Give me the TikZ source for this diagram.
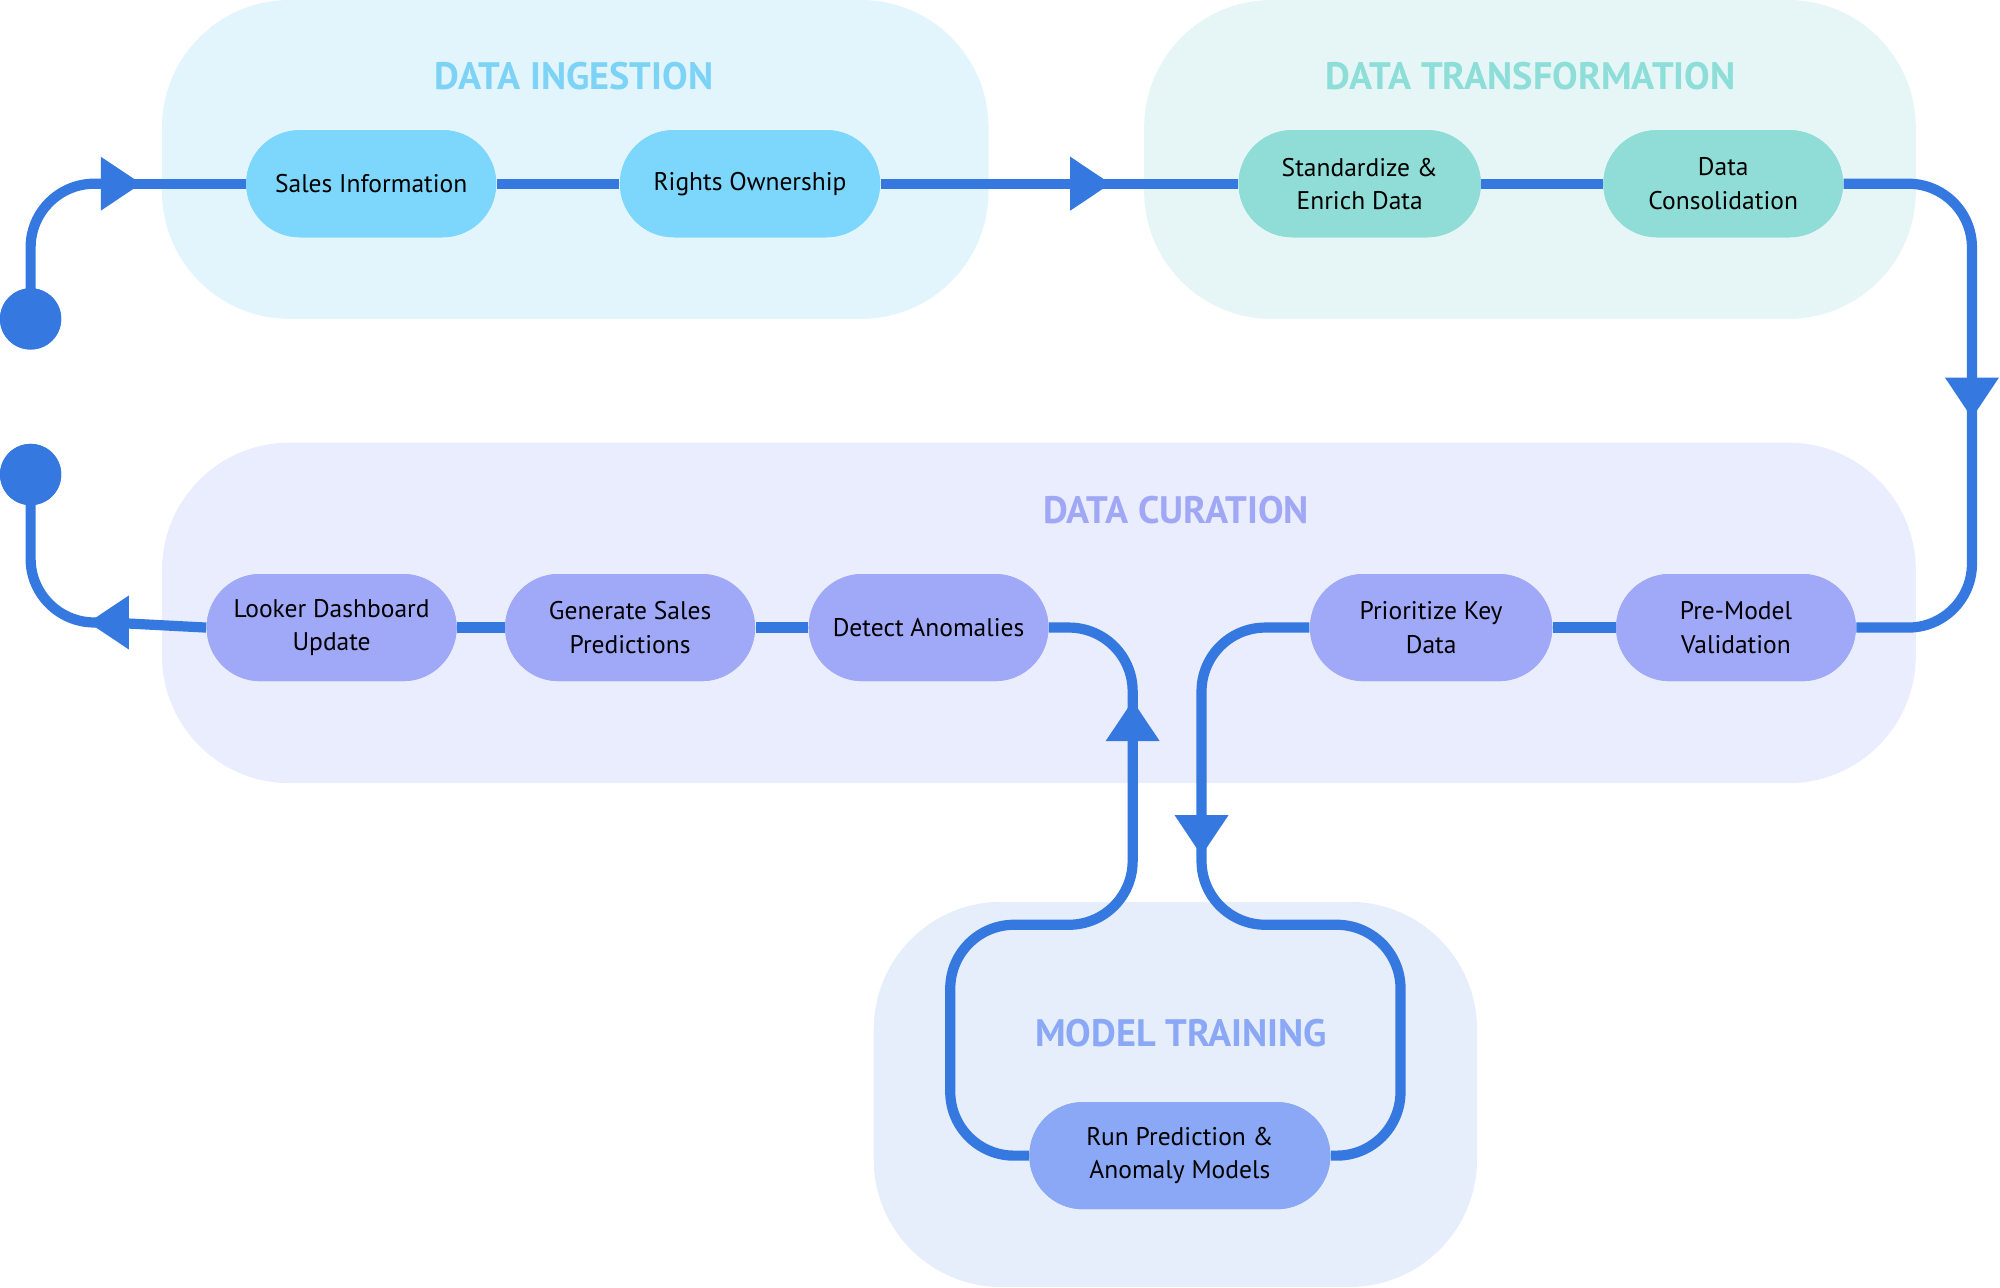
\documentclass[tikz,border=0pt]{standalone}
\usepackage{fontspec}
\setmainfont{PT Sans}
\usetikzlibrary{arrows.meta}
\definecolor{ln}{HTML}{3478E0}
\definecolor{bgA}{HTML}{E3F5FC}\definecolor{tA}{HTML}{7DD3F5}\definecolor{nA}{HTML}{7DD6FB}
\definecolor{bgB}{HTML}{E6F6F6}\definecolor{tB}{HTML}{8DDDD8}\definecolor{nB}{HTML}{8FDDD6}
\definecolor{bgC}{HTML}{EAEDFD}\definecolor{tC}{HTML}{A0A8F5}\definecolor{nC}{HTML}{A0A8F8}
\definecolor{bgD}{HTML}{E6EEFC}\definecolor{tD}{HTML}{8AA8F5}\definecolor{nD}{HTML}{8AA8F5}
\tikzset{
 x=0.5pt,y=-0.5pt,
 grp/.style={rounded corners=50pt},
 ttl/.style={font=\fontsize{15}{18}\selectfont\bfseries},
 stp/.style={rounded corners=21pt,minimum height=42pt,align=center,font=\fontsize{10}{13}\selectfont,inner sep=2pt},
 flow/.style={draw=ln,line width=4pt,rounded corners=25pt},
 tip/.style={draw=ln,line width=4pt,-{Triangle[length=16pt,width=20pt]},shorten >=-8pt},
 dot/.style={circle,fill=ln,minimum size=24pt,inner sep=0pt}
}
\begin{document}
\begin{tikzpicture}
\useasboundingbox (0,0) rectangle (1568,1009);
\fill[bgA,grp] (127,0) rectangle (775,250);
\fill[bgB,grp] (897,0) rectangle (1502,250);
\fill[bgC,grp] (127,347) rectangle (1502,614);
\fill[bgD,grp] (685,707) rectangle (1158,1009);
\node[ttl,text=tA] (tA) at (450,60) {DATA INGESTION};
\node[ttl,text=tB] (tB) at (1200,60) {DATA TRANSFORMATION};
\node[ttl,text=tC] (tC) at (922,400) {DATA CURATION};
\node[ttl,text=tD] (tD) at (926,810) {MODEL TRAINING};

\node[dot] (d1) at (24,250) {};
\node[dot] (d2) at (24,372) {};
\coordinate (a1) at (95,144);
\coordinate (a2) at (855,144);
\coordinate (a3) at (1546,312);
\coordinate (a4) at (942,655);
\coordinate (a5) at (888,565);
\coordinate (a6) at (85,488);

% path lines first
\draw[flow] (d1.center) |- (a1);
\node[stp,fill=nA,minimum width=98pt] (s1) at (291,144) {Sales Information};
\node[stp,fill=nA,minimum width=102pt] (s2) at (588,144) {Rights Ownership};
\node[stp,fill=nB,minimum width=95pt] (s3) at (1066,144) {Standardize \&\\Enrich Data};
\node[stp,fill=nB,minimum width=94pt] (s4) at (1351,144) {Data\\Consolidation};
\node[stp,fill=nC,minimum width=98pt] (c1) at (260,492) {Looker Dashboard\\Update};
\node[stp,fill=nC,minimum width=98pt] (c2) at (494,492) {Generate Sales\\Predictions};
\node[stp,fill=nC,minimum width=94pt] (c3) at (728,492) {Detect Anomalies};
\node[stp,fill=nC,minimum width=95pt] (c4) at (1122,492) {Prioritize Key\\Data};
\node[stp,fill=nC,minimum width=94pt] (c5) at (1361,492) {Pre-Model\\Validation};
\node[stp,fill=nD,minimum width=118pt] (m1) at (925,906) {Run Prediction \&\\Anomaly Models};

\begin{scope}[on background layer/.style={}]
\end{scope}
\draw[flow] (a1) -- (s1.west);
\draw[flow] (s1) -- (s2);
\draw[flow] (s2.east) -- (a2);
\draw[flow] (a2) -- (s3.west);
\draw[flow] (s3) -- (s4);
\draw[flow] (s4.east) -| (a3);
\draw[flow] (a3) |- (c5.east);
\draw[flow] (c5) -- (c4);
\draw[flow] (c4.west) -| (a4);
\draw[flow] (a4) |- (1098,725) |- (m1.east);
\draw[flow] (m1.west) -| (745,725) -| (a5);
\draw[flow] (a5) |- (c3.east);
\draw[flow] (c3) -- (c2);
\draw[flow] (c2) -- (c1);
\draw[flow] (c1.west) -- (a6);
\draw[flow] (a6) -| (d2.center);
\draw[tip] (85,144) -- (a1);
\draw[tip] (845,144) -- (a2);
\draw[tip] (1546,302) -- (a3);
\draw[tip] (942,645) -- (a4);
\draw[tip] (888,575) -- (a5);
\draw[tip] (95,488) -- (a6);
\node[dot] at (d1) {};
\node[dot] at (d2) {};
\node[stp,fill=nA,minimum width=98pt] at (s1) {Sales Information};
\node[stp,fill=nA,minimum width=102pt] at (s2) {Rights Ownership};
\node[stp,fill=nB,minimum width=95pt] at (s3) {Standardize \&\\Enrich Data};
\node[stp,fill=nB,minimum width=94pt] at (s4) {Data\\Consolidation};
\node[stp,fill=nC,minimum width=98pt] at (c1) {Looker Dashboard\\Update};
\node[stp,fill=nC,minimum width=98pt] at (c2) {Generate Sales\\Predictions};
\node[stp,fill=nC,minimum width=94pt] at (c3) {Detect Anomalies};
\node[stp,fill=nC,minimum width=95pt] at (c4) {Prioritize Key\\Data};
\node[stp,fill=nC,minimum width=94pt] at (c5) {Pre-Model\\Validation};
\node[stp,fill=nD,minimum width=118pt] at (m1) {Run Prediction \&\\Anomaly Models};
\end{tikzpicture}
\end{document}
